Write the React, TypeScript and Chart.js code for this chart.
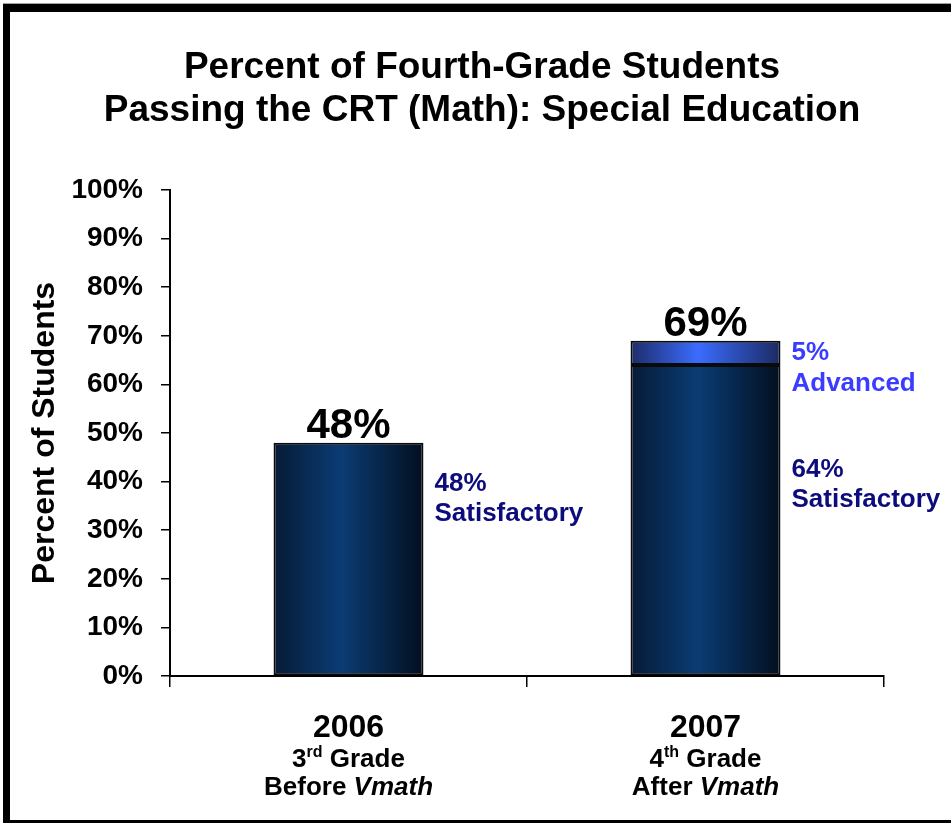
import React, { useEffect, useRef } from "react";
import { Chart, registerables } from "chart.js";

Chart.register(...registerables);

// ---------- data ----------
const years = ["2006", "2007"];
const gradeNumbers = ["3", "4"];
const gradeSuffixes = ["rd", "th"];
const periodWords = ["Before", "After"];
const programName = "Vmath";
const satisfactory = [48, 64];
const advanced = [0, 5];
const titleLines = [
  "Percent of Fourth-Grade Students",
  "Passing the CRT (Math): Special Education",
];
const yAxisTitle = "Percent of Students";
const satisfactoryWord = "Satisfactory";
const advancedWord = "Advanced";

const FONT = "'Liberation Sans', Arial, Helvetica, sans-serif";
const BAR_PCT = 0.42;

function gradientFor(context: any, stops: string[]) {
  const chart = context.chart;
  const xs = chart.scales && chart.scales.x;
  if (!chart.chartArea || !xs) return stops[1];
  const cx = xs.getPixelForValue(context.dataIndex);
  const half = ((xs.right - xs.left) / years.length) * BAR_PCT / 2;
  const g = chart.ctx.createLinearGradient(cx - half, 0, cx + half, 0);
  g.addColorStop(0, stops[0]);
  g.addColorStop(0.45, stops[1]);
  g.addColorStop(1, stops[2]);
  return g;
}

const overlayPlugin = {
  id: "overlay",
  beforeDraw(chart: any) {
    const { ctx, width, height } = chart;
    ctx.save();
    ctx.fillStyle = "#ffffff";
    ctx.fillRect(0, 0, width, height);
    ctx.fillStyle = "#a0a0a0";
    ctx.fillRect(3, 3, width - 3, 1);
    ctx.fillStyle = "#000000";
    ctx.fillRect(3, 4, width - 3, 8);
    ctx.fillRect(3, 4, 7, height - 4);
    ctx.fillRect(3, height - 3, width - 3, 3);
    ctx.restore();
  },
  afterDraw(chart: any) {
    const { ctx } = chart;
    const xs = chart.scales.x;
    const ys = chart.scales.y;
    ctx.save();
    ctx.fillStyle = "#000";
    ctx.textBaseline = "alphabetic";

    // title
    ctx.textAlign = "center";
    ctx.font = `bold 37px ${FONT}`;
    ctx.fillText(titleLines[0], 482, 78);
    ctx.fillText(titleLines[1], 482, 121);

    // y axis title
    ctx.save();
    ctx.translate(54, (chart.chartArea.top + chart.chartArea.bottom) / 2);
    ctx.rotate(-Math.PI / 2);
    ctx.font = `bold 32px ${FONT}`;
    ctx.textAlign = "center";
    ctx.fillText(yAxisTitle, 0, 0);
    ctx.restore();

    const satMeta = chart.getDatasetMeta(0);
    // label anchors (value units)
    const satAnchor = [38, 41];
    const advAnchor = [null, 65];
    const lineGap = 30;

    years.forEach((_, i) => {
      const cx = xs.getPixelForValue(i);
      const total = satisfactory[i] + advanced[i];
      // total on top
      ctx.textAlign = "center";
      ctx.fillStyle = "#000";
      ctx.font = `bold 42px ${FONT}`;
      ctx.fillText(`${total}%`, cx, ys.getPixelForValue(total) - 5);

      // side labels
      const bar = satMeta.data[i];
      const lx = bar.x + bar.width / 2 + 11;
      ctx.textAlign = "left";
      ctx.font = `bold 26px ${FONT}`;
      ctx.fillStyle = "#0c0c7c";
      const sy = ys.getPixelForValue(satAnchor[i]);
      ctx.fillText(`${satisfactory[i]}%`, lx, sy);
      ctx.fillText(satisfactoryWord, lx, sy + lineGap);
      if (advanced[i] > 0 && advAnchor[i] != null) {
        ctx.fillStyle = "#3a3cff";
        const ay = ys.getPixelForValue(advAnchor[i] as number);
        ctx.fillText(`${advanced[i]}%`, lx, ay);
        ctx.fillText(advancedWord, lx, ay + lineGap + 1);
      }

      // category sub lines
      ctx.fillStyle = "#000";
      const big = `bold 26px ${FONT}`;
      const small = `bold 16px ${FONT}`;
      ctx.font = big;
      const wNum = ctx.measureText(gradeNumbers[i]).width;
      const wRest = ctx.measureText(" Grade").width;
      ctx.font = small;
      const wSup = ctx.measureText(gradeSuffixes[i]).width;
      let sx = cx - (wNum + wSup + wRest) / 2;
      const gy = 767;
      ctx.font = big;
      ctx.fillText(gradeNumbers[i], sx, gy);
      sx += wNum;
      ctx.font = small;
      ctx.fillText(gradeSuffixes[i], sx, gy - 10);
      sx += wSup;
      ctx.font = big;
      ctx.fillText(" Grade", sx, gy);

      const by = 795;
      ctx.font = big;
      const wp = ctx.measureText(periodWords[i] + " ").width;
      const italic = `italic bold 26px ${FONT}`;
      ctx.font = italic;
      const wv = ctx.measureText(programName).width;
      let px = cx - (wp + wv) / 2;
      ctx.font = big;
      ctx.fillText(periodWords[i] + " ", px, by);
      px += wp;
      ctx.font = italic;
      ctx.fillText(programName, px, by);
    });
    ctx.restore();
  },
};

export default function App() {
  const canvasRef = useRef<HTMLCanvasElement | null>(null);

  useEffect(() => {
    const canvas = canvasRef.current;
    if (!canvas) return;
    const chart = new Chart(canvas, {
      type: "bar",
      data: {
        labels: years,
        datasets: [
          {
            label: satisfactoryWord,
            data: satisfactory,
            backgroundColor: (c: any) => gradientFor(c, ["#071a35", "#0a3c74", "#030f1f"]),
            borderColor: "#0a0a0a",
            borderWidth: 2,
            borderSkipped: false,
            barPercentage: BAR_PCT,
            categoryPercentage: 1,
          },
          {
            label: advancedWord,
            data: advanced,
            backgroundColor: (c: any) => gradientFor(c, ["#1e2c68", "#3a6cff", "#1c2a62"]),
            borderColor: "#0a0a0a",
            borderWidth: (c: any) => (advanced[c.dataIndex] > 0 ? 2 : 0),
            borderSkipped: false,
            barPercentage: BAR_PCT,
            categoryPercentage: 1,
          },
        ],
      },
      options: {
        responsive: false,
        animation: false,
        layout: { padding: { left: 0, top: 190, right: 67, bottom: 0 } },
        plugins: {
          legend: { display: false },
          tooltip: { enabled: false },
          title: { display: false },
        },
        scales: {
          x: {
            stacked: true,
            offset: true,
            grid: {
              display: true,
              offset: true,
              drawOnChartArea: false,
              drawTicks: true,
              tickLength: 11,
              color: "#000",
              lineWidth: 1.5,
            },
            border: { display: true, color: "#000", width: 2 },
            ticks: {
              color: "#000",
              font: { family: FONT, size: 32, weight: "bold" },
              padding: 22,
              maxRotation: 0,
            },
            afterFit: (scale: any) => {
              scale.height = 823 - 676;
            },
          },
          y: {
            stacked: true,
            min: 0,
            max: 100,
            ticks: {
              stepSize: 10,
              color: "#000",
              font: { family: FONT, size: 28, weight: "bold" },
              padding: 18,
              callback: (v: any) => `${v}%`,
            },
            grid: {
              display: true,
              drawOnChartArea: false,
              drawTicks: true,
              tickLength: 9,
              color: "#000",
              lineWidth: 1.5,
            },
            border: { display: true, color: "#000", width: 2 },
            afterFit: (scale: any) => {
              scale.width = 170;
            },
          },
        },
      },
      plugins: [overlayPlugin],
    } as any);
    return () => chart.destroy();
  }, []);

  return (
    <div style={{ position: "absolute", left: 0, top: 0, width: 951, height: 823 }}>
      <canvas ref={canvasRef} width={951} height={823} style={{ display: "block" }} />
    </div>
  );
}
